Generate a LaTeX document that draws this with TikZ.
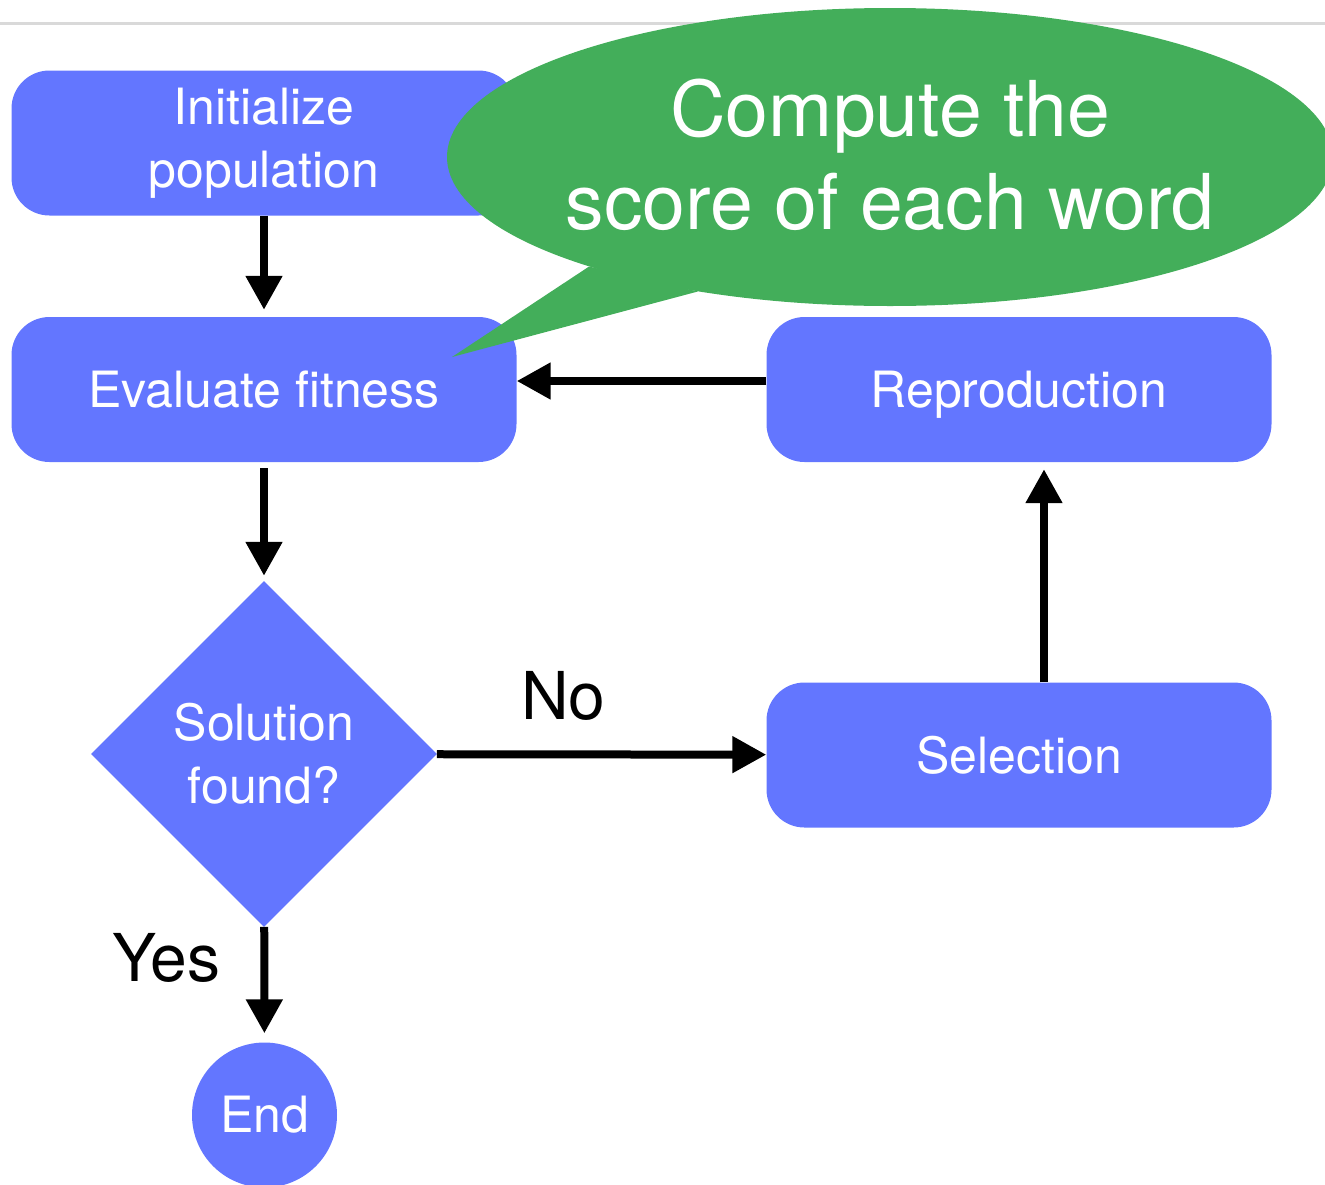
\documentclass[tikz,border=0pt]{standalone}
\usepackage{fontspec}
\setmainfont{TeX Gyre Heros}
\usetikzlibrary{arrows.meta,shapes.geometric}
\definecolor{stepblue}{HTML}{6376FF}
\definecolor{notegreen}{HTML}{43AE5A}
\definecolor{rulegray}{HTML}{D9D9D9}
\tikzset{
	stage/.style={rectangle, rounded corners=38pt, fill=stepblue, text=white,
		minimum width=505pt, minimum height=145pt, inner sep=0pt, align=center,
		font=\fontsize{50}{63}\selectfont},
	decision/.style={diamond, fill=stepblue, text=white,
		minimum width=346pt, minimum height=346pt, inner sep=0pt, align=center,
		font=\fontsize{50}{63}\selectfont},
	terminal/.style={circle, fill=stepblue, text=white, minimum size=145pt,
		inner sep=0pt, font=\fontsize{50}{63}\selectfont},
	flow/.style={-{Triangle[length=34pt,width=35pt]}, line width=8pt},
	answer/.style={inner sep=0pt, font=\fontsize{66}{79}\selectfont},
	note/.style={ellipse, fill=notegreen, minimum width=886pt,
		minimum height=298pt, inner sep=0pt},
	notetext/.style={text=white, inner sep=0pt, align=center,
		font=\fontsize{77}{93}\selectfont}
}

\begin{document}
\begin{tikzpicture}[x=1pt, y=-1pt]
	\useasboundingbox (0,0) rectangle (1325,1184);
	\draw [rulegray, line width=2.5pt] (0,23.5) -- (1325,23.5);

	\node [stage] (init) at (264,143) {Initialize\\population};
	\node [stage] (eval) at (264,389.5) {Evaluate fitness};
	\node [decision] (found) at (264,754) {Solution\\found?};
	\node [terminal] (end) at (264.5,1115) {End};
	\node [stage] (select) at (1019,755) {Selection};
	\node [stage, text depth=0pt] (repro) at (1019,389.5) {Reproduction};

	\draw [flow, shorten >=7pt] (init) -- (eval);
	\draw [flow, shorten <=6pt, shorten >=5pt] (eval) -- (found);
	\draw [flow] (found) -- 
	node [answer, above=30pt, pos=0.384] (no) {No} 
	(select);
	\draw [flow, shorten >=7pt] ([xshift=25pt]select.north) -- ([xshift=25pt]repro.south);
	\draw [flow] ([yshift=8.5pt]repro.west) -- ([yshift=8.5pt]eval.east);
	\draw [flow, shorten >=9pt] (found) -- 
	node [answer, left=40pt, pos=0.27] (yes) {Yes} 
	(end);

	% speech bubble
	\node [note] (bubble) at (890,157) {};
	\coordinate (tip) at (452,357);
	\fill [notegreen] (bubble.200) -- (tip) -- (bubble.215) -- cycle;
	\node [notetext] (bubbletext) at (890,155) {Compute the\\score of each word};
\end{tikzpicture}
\end{document}
